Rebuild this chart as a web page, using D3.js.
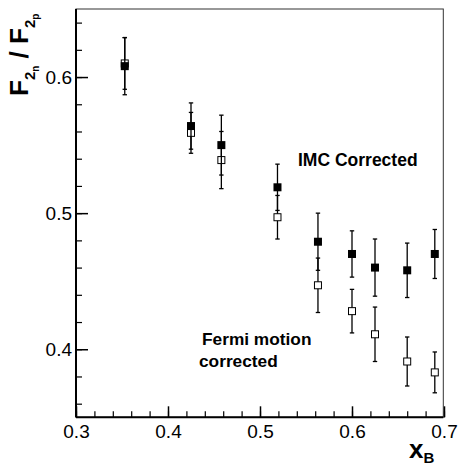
<!DOCTYPE html>
<html>
<head>
<meta charset="utf-8">
<script src="https://cdn.jsdelivr.net/npm/d3@7"></script>
<style>
  html, body { margin: 0; padding: 0; background: #fff; }
  svg { display: block; font-family: "Liberation Sans", Arial, Helvetica, sans-serif; }
</style>
</head>
<body>
<svg id="chart" width="458" height="470"></svg>
<script>
// ---- data ----
const xB        = [0.353, 0.425, 0.458, 0.519, 0.563, 0.600, 0.625, 0.660, 0.690];
const imcVals   = [0.608, 0.564, 0.550, 0.519, 0.479, 0.470, 0.460, 0.458, 0.470];
const imcErr    = [0.021, 0.017, 0.022, 0.017, 0.021, 0.017, 0.021, 0.020, 0.018];
const fermiVals = [0.610, 0.559, 0.539, 0.497, 0.447, 0.428, 0.411, 0.391, 0.383];
const fermiErr  = [0.019, 0.015, 0.021, 0.016, 0.020, 0.016, 0.020, 0.018, 0.015];
const xTicks      = [0.3, 0.4, 0.5, 0.6, 0.7];
const xMinorTicks = d3.range(0.30, 0.7001, 0.02);
const yTicks      = [0.4, 0.5, 0.6];
const yMinorTicks = d3.range(0.36, 0.6401, 0.02);

const svg = d3.select("#chart");
const L = 76, R = 444, T = 9, B = 417.3;

const x = d3.scaleLinear().domain([0.3, 0.7]).range([L, R]);
const y = d3.scaleLinear().domain([0.35, 0.65]).range([B, T]);

// frame (top/right thin)
svg.append("rect").attr("x", L).attr("y", T).attr("width", 443.3 - L).attr("height", B - T)
  .attr("fill", "none").attr("stroke", "#333").attr("stroke-width", 1);

// minor ticks
const xMinor = d3.axisBottom(x).tickValues(xMinorTicks).tickSize(-6).tickFormat("");
const yMinor = d3.axisLeft(y).tickValues(yMinorTicks).tickSize(-6).tickFormat("");
svg.append("g").attr("transform", `translate(0,${B})`).call(xMinor)
  .call(g => g.select(".domain").remove())
  .call(g => g.selectAll("line").attr("stroke", "#000").attr("stroke-width", 1.2));
svg.append("g").attr("transform", `translate(${L},0)`).call(yMinor)
  .call(g => g.select(".domain").remove())
  .call(g => g.selectAll("line").attr("stroke", "#000").attr("stroke-width", 1.2));

// major axes
const xAxis = d3.axisBottom(x).tickValues(xTicks).tickSize(-11).tickPadding(7)
  .tickFormat(d3.format(".1f"));
const yAxis = d3.axisLeft(y).tickValues(yTicks).tickSize(-12).tickPadding(4)
  .tickFormat(d3.format(".1f"));

svg.append("g").attr("transform", `translate(0,${B})`).call(xAxis)
  .call(g => g.select(".domain").attr("stroke", "#000").attr("stroke-width", 2).attr("d", `M${L},0H443.3`))
  .call(g => g.selectAll("line").attr("stroke", "#000").attr("stroke-width", 1.5))
  .call(g => g.selectAll("text").attr("font-size", 19).attr("fill", "#000")
    .attr("font-family", "'Liberation Sans', Arial, sans-serif"));
svg.append("g").attr("transform", `translate(${L},0)`).call(yAxis)
  .call(g => g.select(".domain").attr("stroke", "#000").attr("stroke-width", 2).attr("d", `M0,${B}V${T}`))
  .call(g => g.selectAll("line").attr("stroke", "#000").attr("stroke-width", 1.5))
  .call(g => g.selectAll("text").attr("font-size", 19).attr("fill", "#000")
    .attr("font-family", "'Liberation Sans', Arial, sans-serif"));

// error bars + markers
function drawSeries(vals, errs, filled) {
  const g = svg.append("g");
  const cap = 2.2;
  vals.forEach((v, i) => {
    const cx = x(xB[i]);
    g.append("line").attr("x1", cx).attr("x2", cx)
      .attr("y1", y(v - errs[i])).attr("y2", y(v + errs[i]))
      .attr("stroke", "#000").attr("stroke-width", 1.3);
    [v - errs[i], v + errs[i]].forEach(e => {
      g.append("line").attr("x1", cx - cap).attr("x2", cx + cap)
        .attr("y1", y(e)).attr("y2", y(e))
        .attr("stroke", "#000").attr("stroke-width", 1.3);
    });
  });
  const s = filled ? 8 : 7;
  g.selectAll("rect").data(vals).enter().append("rect")
    .attr("x", (d, i) => x(xB[i]) - s / 2)
    .attr("y", d => y(d) - s / 2)
    .attr("width", s).attr("height", s)
    .attr("fill", filled ? "#000" : "#fff")
    .attr("stroke", filled ? "none" : "#000")
    .attr("stroke-width", 1);
}
drawSeries(fermiVals, fermiErr, false);
drawSeries(imcVals, imcErr, true);

// annotations
svg.append("text").attr("x", 298).attr("y", 166)
  .attr("font-size", 17.5).attr("font-weight", "bold").text("IMC Corrected");
svg.append("text").attr("x", 202).attr("y", 345)
  .attr("font-size", 17.3).attr("font-weight", "bold").text("Fermi motion");
svg.append("text").attr("x", 199).attr("y", 367)
  .attr("font-size", 17.3).attr("font-weight", "bold").text("corrected");

// y title: F_{2_n} / F_{2_p}
const yt = svg.append("text").attr("transform", "translate(28,96) rotate(-90)")
  .attr("font-weight", "bold");
yt.append("tspan").attr("font-size", 26).text("F");
yt.append("tspan").attr("font-size", 15).attr("dy", 7).text("2");
yt.append("tspan").attr("font-size", 10).attr("dy", 4).text("n");
yt.append("tspan").attr("font-size", 26).attr("dy", -11).text("\u00a0/\u00a0");
yt.append("tspan").attr("font-size", 26).text("F");
yt.append("tspan").attr("font-size", 15).attr("dy", 7).text("2");
yt.append("tspan").attr("font-size", 10).attr("dy", 4).text("p");

// x title: x_B
const xt = svg.append("text").attr("x", 409).attr("y", 458).attr("font-weight", "bold");
xt.append("tspan").attr("font-size", 26).text("x");
xt.append("tspan").attr("font-size", 15).attr("dy", 5).text("B");
</script>
</body>
</html>
